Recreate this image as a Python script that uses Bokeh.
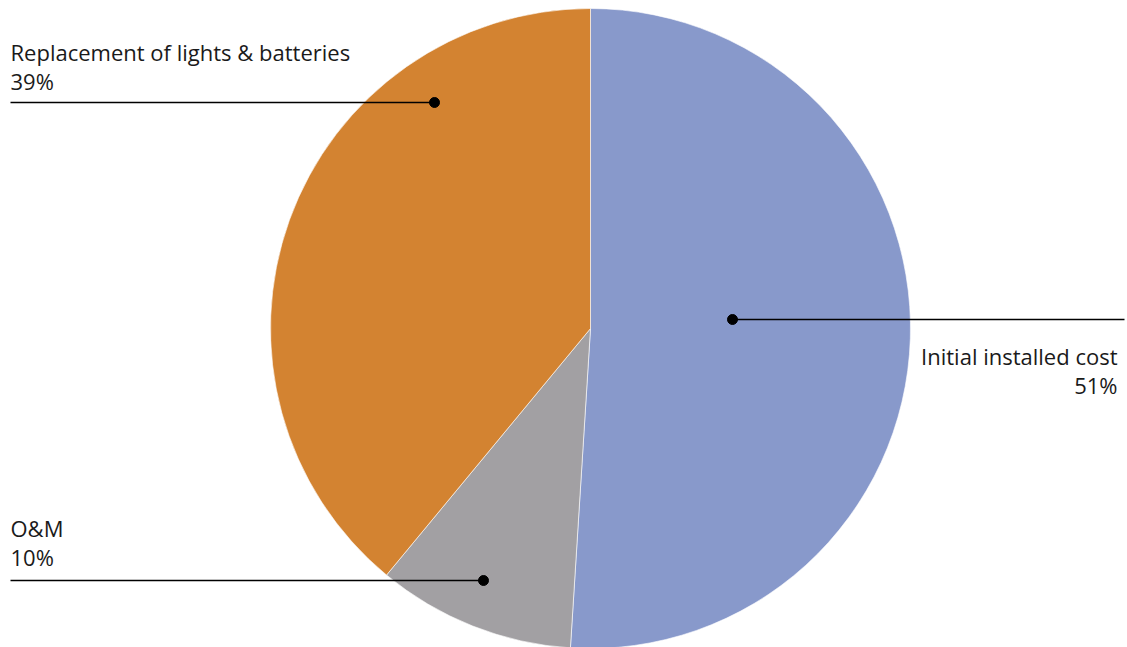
import math
from bokeh.plotting import figure
from bokeh.models import ColumnDataSource, Range1d
from bokeh.core.properties import value
from bokeh.embed import file_html
from bokeh.resources import INLINE

# ---- data ----
categories = ["Initial installed cost", "O&M", "Replacement of lights & batteries"]
shares = [51, 10, 39]
colors = ["#8899CB", "#A2A0A3", "#D38331"]

W, H = 1127, 647
p = figure(width=W, height=H, output_backend="svg", toolbar_location=None,
           x_range=Range1d(0, W), y_range=Range1d(0, H), min_border=0,
           outline_line_color=None)
p.axis.visible = False
p.grid.visible = False
p.background_fill_color = "white"

def X(page_x):
    return page_x

def Y(page_y):
    return H - page_y

cx, cy, r = X(590), Y(328), 320
total = sum(shares)
starts, ends = [], []
cum = 0.0
for s in shares:
    a0 = math.pi / 2 - 2 * math.pi * cum / total
    cum += s
    a1 = math.pi / 2 - 2 * math.pi * cum / total
    starts.append(a0)
    ends.append(a1)

src = ColumnDataSource(dict(start=starts, end=ends, color=colors, cat=categories))
p.wedge(x=cx, y=cy, radius=r, start_angle="start", end_angle="end",
        direction="clock", fill_color="color", line_color="white", line_width=0.6,
        source=src)

# label layout (page pixel coordinates): dot, line end, text anchor, align
layout = {
    "Initial installed cost": dict(dot=(732, 319), line_to=1124, text=(1117, 355), align="right"),
    "O&M": dict(dot=(483, 580), line_to=10, text=(10, 527), align="left"),
    "Replacement of lights & batteries": dict(dot=(434, 102), line_to=10, text=(10, 51), align="left"),
}

for cat, s in zip(categories, shares):
    L = layout[cat]
    dx, dy = L["dot"]
    p.line(x=[X(dx), X(L["line_to"])], y=[Y(dy), Y(dy)], line_color="black", line_width=1.4)
    p.scatter(x=[X(dx)], y=[Y(dy)], size=10, fill_color="black", line_color="black")
    tx, ty = L["text"]
    p.text(x=[X(tx), X(tx)], y=[Y(ty), Y(ty + 29)], text=[cat, f"{s}%"],
           text_font=value("Open Sans"), text_font_size="22px", text_color="#1a1a1a",
           text_align=L["align"], text_baseline="alphabetic")

open("out.html", "w").write(file_html(p, INLINE))
